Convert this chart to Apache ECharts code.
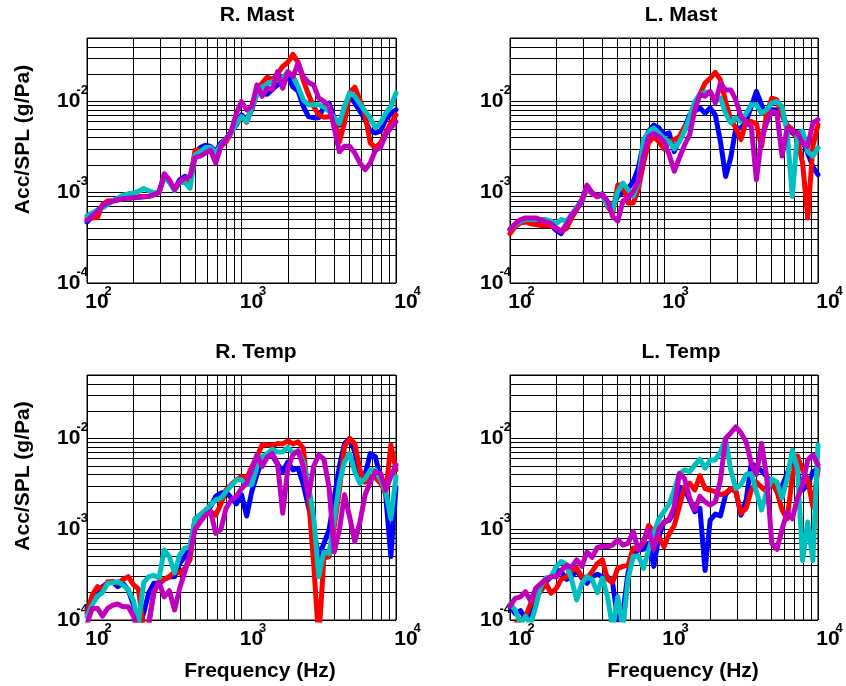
<!DOCTYPE html>
<html><head><meta charset="utf-8">
<script src="https://cdn.jsdelivr.net/npm/echarts@6/dist/echarts.min.js"></script>
<style>html,body{margin:0;padding:0;background:#fff}#c{width:846px;height:686px}</style>
</head><body><div id="c"></div>
<script>
// ---------- data ----------
const freq = [100,108,117,126,136,147,158,171,185,200,215,233,251,271,293,316,341,369,398,430,464,501,541,584,631,681,736,794,858,926,1000,1080,1166,1259,1359,1468,1585,1711,1848,1995,2154,2326,2512,2712,2929,3162,3415,3687,3981,4299,4642,5012,5412,5843,6310,6813,7356,7943,8577,9261,10000];

const rMastBlue = [0.00047,0.00054,0.00062,0.0007,0.00075,0.0008,0.00082,0.00084,0.00086,0.00087,
0.00088,0.00089,0.0009,0.00094,0.001,0.0015,0.0013,0.00108,0.00137,0.0015,
0.00137,0.0027,0.0031,0.0033,0.0032,0.0028,0.0035,0.0039,0.0047,0.0055,
0.0071,0.0063,0.0081,0.0124,0.0122,0.012,0.0136,0.0152,0.0159,0.0191,
0.0144,0.013,0.0088,0.0068,0.0066,0.0066,0.0088,0.0096,0.0066,0.0055,
0.0088,0.0114,0.0096,0.0078,0.0063,0.0047,0.0045,0.0047,0.0063,0.0074,
0.0081];
const rMastRed = [0.00052,0.00052,0.00053,0.00073,0.0008,0.00081,0.00083,0.00085,0.00086,0.00088,
0.00089,0.00089,0.0009,0.00094,0.001,0.00147,0.0013,0.00108,0.0013,0.00137,
0.0013,0.0029,0.0029,0.0029,0.003,0.0027,0.0032,0.0036,0.0045,0.0058,
0.0068,0.0059,0.0085,0.0134,0.0159,0.0185,0.0173,0.0201,0.0243,0.027,
0.033,0.027,0.017,0.012,0.0088,0.0071,0.0067,0.0068,0.0066,0.0036,
0.0058,0.0124,0.0144,0.0104,0.0071,0.0035,0.0031,0.0035,0.0045,0.0058,
0.0071];
const rMastCyan = [0.00055,0.00059,0.00064,0.00067,0.00073,0.0008,0.00086,0.00093,0.00096,0.00098,
0.00102,0.0011,0.00104,0.00098,0.00102,0.0015,0.0013,0.00104,0.0013,0.00128,
0.0011,0.0026,0.0028,0.0031,0.0031,0.0027,0.0033,0.0039,0.0045,0.0057,
0.0068,0.006,0.0085,0.012,0.0144,0.0156,0.0166,0.0173,0.0185,0.021,
0.019,0.0145,0.0104,0.0092,0.0092,0.0092,0.0087,0.0078,0.0066,0.0057,
0.0088,0.0124,0.0114,0.0094,0.0078,0.0066,0.0051,0.0058,0.0074,0.0088,
0.0124];
const rMastMagenta = [0.00049,0.00055,0.00062,0.00071,0.00076,0.0008,0.00083,0.00085,0.00086,0.00087,
0.00088,0.0009,0.0009,0.00094,0.001,0.0016,0.00137,0.00107,0.0013,0.00143,
0.0015,0.0024,0.0025,0.0027,0.0029,0.0021,0.0032,0.0038,0.0047,0.0074,
0.010,0.0081,0.0088,0.0152,0.0114,0.014,0.0136,0.0214,0.014,0.0214,
0.0188,0.0264,0.0188,0.0162,0.0152,0.0109,0.010,0.009,0.0051,0.0028,
0.0032,0.0032,0.0027,0.0021,0.00177,0.0021,0.0029,0.0031,0.0043,0.0051,
0.006];

const lMastBlue = [0.00039,0.00044,0.00048,0.00049,0.00049,0.00049,0.00046,0.00045,0.00043,0.00038,
0.00035,0.00045,0.00056,0.00067,0.00083,0.00114,0.00098,0.0009,0.00096,0.00075,
0.0007,0.0009,0.001,0.0011,0.00131,0.00184,0.0035,0.0047,0.0055,0.0051,
0.0043,0.0045,0.0028,0.0038,0.0051,0.0071,0.0078,0.0085,0.0074,0.0085,
0.0071,0.0036,0.00149,0.0024,0.0051,0.0051,0.006,0.0088,0.0129,0.0092,
0.0068,0.0081,0.0081,0.0071,0.0053,0.0045,0.0041,0.0036,0.0027,0.0019,
0.00156];
const lMastRed = [0.00035,0.00042,0.00046,0.00047,0.00045,0.00044,0.00043,0.00043,0.00043,0.0004,
0.00037,0.0004,0.00052,0.00064,0.0008,0.0011,0.00097,0.00089,0.00094,0.00069,
0.00059,0.0012,0.0012,0.00076,0.00076,0.00107,0.0021,0.0035,0.0041,0.0036,
0.003,0.0036,0.0038,0.0041,0.0053,0.0055,0.0085,0.012,0.0159,0.018,
0.0209,0.0173,0.010,0.0063,0.0051,0.0038,0.006,0.006,0.0057,0.0032,
0.0074,0.0109,0.0104,0.0071,0.0055,0.0049,0.0038,0.0021,0.00052,0.0032,
0.0055];
const lMastCyan = [0.00039,0.00044,0.00048,0.0005,0.0005,0.0005,0.0005,0.0005,0.00048,0.00045,
0.0005,0.00048,0.00057,0.00068,0.0008,0.00116,0.00098,0.0009,0.00094,0.0007,
0.00064,0.00102,0.00126,0.00107,0.0009,0.00126,0.0038,0.0046,0.0051,0.0045,
0.0039,0.0036,0.003,0.0036,0.0047,0.0068,0.010,0.012,0.0126,0.0126,
0.0104,0.0109,0.0074,0.0058,0.0066,0.006,0.0074,0.0092,0.0092,0.0074,
0.0081,0.0096,0.010,0.0088,0.0045,0.0009,0.0045,0.0047,0.0028,0.0025,
0.0031];
const lMastMagenta = [0.00039,0.00045,0.0005,0.00052,0.00052,0.00052,0.0005,0.00047,0.00045,0.0004,
0.00037,0.00044,0.00056,0.00065,0.0008,0.0012,0.00099,0.0009,0.00094,0.0008,
0.00054,0.00048,0.0008,0.00086,0.00102,0.00131,0.0025,0.0041,0.0044,0.0041,
0.0036,0.0026,0.0017,0.0024,0.0033,0.0043,0.0081,0.012,0.0114,0.0129,
0.0096,0.0159,0.0134,0.0134,0.0104,0.0068,0.0058,0.0053,0.00137,0.0039,
0.0058,0.0078,0.0074,0.0025,0.0051,0.0047,0.0045,0.0035,0.0032,0.0058,
0.0063];

const rTempBlue = [0.000134,0.000159,0.000184,0.000233,0.000254,0.000264,0.000233,0.000254,0.000214,0.000146,
0.00008,0.00012,0.0002,0.000254,0.000254,0.00028,0.0003,0.0003,0.00042,0.0005,
0.00062,0.0013,0.00143,0.00156,0.00177,0.0023,0.0025,0.0026,0.0022,0.0019,
0.0024,0.0014,0.0026,0.004,0.0058,0.0066,0.0064,0.0052,0.0043,0.0055,
0.0045,0.0047,0.0031,0.00177,0.00098,0.0005,0.0007,0.00098,0.0022,0.0049,
0.0088,0.010,0.0071,0.004,0.004,0.0068,0.0063,0.0036,0.0024,0.0005,
0.0029];
const rTempRed = [0.000118,0.000188,0.000233,0.000214,0.000264,0.000264,0.000254,0.00028,0.0003,0.000244,
0.00022,0.00008,0.00009,0.0002,0.000264,0.00028,0.0003,0.00034,0.00033,0.00037,
0.00046,0.00126,0.00143,0.0015,0.00156,0.00143,0.0019,0.0027,0.0031,0.0035,
0.0038,0.0036,0.0049,0.0063,0.0085,0.0085,0.0083,0.0088,0.0087,0.0094,
0.0087,0.0092,0.0078,0.0023,0.00042,0.00006,0.00048,0.0005,0.00107,0.0027,
0.0081,0.010,0.0088,0.0045,0.0033,0.0038,0.0037,0.0032,0.0025,0.0085,
0.0045];
const rTempCyan = [0.000109,0.000146,0.000184,0.0002,0.000254,0.000258,0.000264,0.000244,0.000214,0.000163,
0.00009,0.00026,0.0003,0.00031,0.00029,0.00059,0.0005,0.00033,0.00052,0.00062,
0.00064,0.0013,0.00143,0.00163,0.00184,0.0021,0.0022,0.0026,0.003,0.0035,
0.0035,0.0031,0.0031,0.0049,0.0063,0.0068,0.0076,0.0071,0.0071,0.008,
0.0069,0.0073,0.0055,0.0031,0.00137,0.0003,0.00056,0.00054,0.00126,0.0032,
0.0055,0.0068,0.0043,0.0032,0.0036,0.0045,0.0045,0.0035,0.0026,0.0013,
0.0038];
const rTempMagenta = [0.00009,0.000134,0.000134,0.00011,0.000134,0.000146,0.00015,0.00014,0.00014,0.00011,
0.00007,0.00007,0.00009,0.00021,0.00026,0.00018,0.00021,0.000129,0.000224,0.00034,
0.00054,0.001,0.0012,0.00143,0.00156,0.0009,0.001,0.0017,0.0021,0.0023,
0.0028,0.0032,0.0045,0.0066,0.0049,0.0062,0.0068,0.0053,0.0015,0.0047,
0.0066,0.0073,0.0049,0.0023,0.0049,0.0066,0.0059,0.0029,0.00056,0.00098,
0.0024,0.00137,0.00073,0.0012,0.0024,0.0033,0.0043,0.0041,0.0027,0.0038,
0.0051];

const lTempBlue = [0.000141,0.000118,0.000127,0.000104,0.000113,0.000173,0.000244,0.000264,0.0003,0.00036,
0.00034,0.00028,0.0003,0.00035,0.00029,0.000254,0.0003,0.00032,0.0003,0.0003,
0.000254,0.0001,0.00012,0.00033,0.00052,0.00059,0.0006,0.0007,0.00039,0.00083,
0.0012,0.00126,0.00156,0.0029,0.0028,0.0021,0.00156,0.0017,0.00035,0.00126,
0.00147,0.0014,0.0024,0.0028,0.0026,0.00143,0.0021,0.0053,0.0049,0.0044,
0.0038,0.0033,0.0026,0.003,0.0041,0.006,0.0043,0.0027,0.0031,0.0043,
0.0047];
const lTempRed = [0.00008,0.00009,0.0001,0.000109,0.00015,0.00021,0.000205,0.000254,0.000197,0.000224,
0.00028,0.0003,0.00035,0.00037,0.0003,0.00029,0.00034,0.00042,0.00046,0.00028,
0.00026,0.00037,0.00039,0.0004,0.00062,0.0006,0.0007,0.0011,0.00094,0.00083,
0.00064,0.00089,0.0011,0.00177,0.0029,0.0032,0.0027,0.0039,0.0028,0.0027,
0.0026,0.0024,0.0025,0.0028,0.0026,0.0015,0.0017,0.0027,0.0033,0.0029,
0.0026,0.0033,0.0026,0.00163,0.0013,0.0038,0.0064,0.0045,0.0035,0.00177,
0.0045];
const lTempCyan = [0.00015,0.000129,0.00009,0.00011,0.00009,0.000141,0.000233,0.00029,0.0003,0.00039,
0.00044,0.00041,0.00028,0.000166,0.000254,0.0003,0.00028,0.0002,0.00029,0.00018,
0.00008,0.00018,0.00008,0.00028,0.0005,0.00051,0.00037,0.00059,0.0009,0.0013,
0.00156,0.0019,0.0027,0.0041,0.0045,0.0043,0.0051,0.0059,0.0047,0.0058,
0.0058,0.0071,0.010,0.0045,0.0028,0.0031,0.004,0.0041,0.0026,0.00163,
0.0026,0.0036,0.0033,0.0022,0.0036,0.0074,0.0047,0.00045,0.0012,0.00045,
0.0085];
const lTempMagenta = [0.000141,0.000173,0.00018,0.000205,0.000163,0.000224,0.00025,0.00028,0.0003,0.0003,
0.00035,0.0004,0.00038,0.00046,0.00039,0.00056,0.00049,0.00063,0.00065,0.00064,
0.00067,0.00077,0.00067,0.0007,0.00094,0.00059,0.00075,0.001,0.0006,0.001,
0.0012,0.0013,0.00177,0.0041,0.0036,0.0022,0.00163,0.0023,0.002,0.00184,
0.002,0.0035,0.010,0.0115,0.0134,0.0115,0.0092,0.0053,0.004,0.0088,
0.0038,0.0007,0.0006,0.001,0.00156,0.0013,0.0022,0.0031,0.0058,0.0066,
0.0051];

const panelTitles = ['R. Mast', 'L. Mast', 'R. Temp', 'L. Temp'];
const yAxisTitle = 'Acc/SPL (g/Pa)';
const xAxisTitle = 'Frequency (Hz)';
const xRange = [100, 10000];
const yRange = [0.0001, 0.05];
const xMinorGrid = [200,300,400,500,600,700,800,900,2000,3000,4000,5000,6000,7000,8000,9000];
const yMinorGrid = [0.0002,0.0003,0.0004,0.0005,0.0006,0.0007,0.0008,0.0009,
                    0.002,0.003,0.004,0.005,0.006,0.007,0.008,0.009,0.02,0.03,0.04];

// ---------- layout / style ----------
const seriesColors = ['#0000FF', '#FF0000', '#00BFBF', '#BF00BF'];
const panelSeries = [
  [rMastBlue, rMastRed, rMastCyan, rMastMagenta],
  [lMastBlue, lMastRed, lMastCyan, lMastMagenta],
  [rTempBlue, rTempRed, rTempCyan, rTempMagenta],
  [lTempBlue, lTempRed, lTempCyan, lTempMagenta]
];
const FONT = '"Liberation Sans", Arial, Helvetica, sans-serif';
const grids = [
  {left: 87, top: 38, width: 309, height: 245},
  {left: 510, top: 38, width: 308, height: 245},
  {left: 87, top: 375, width: 309, height: 245},
  {left: 510, top: 375, width: 308, height: 245}
];
const titlePos = [[257, 5], [681, 5], [256, 342], [681, 342]];

function expLabel(v) {
  const e = Math.log10(v);
  const r = Math.round(e);
  if (Math.abs(e - r) > 1e-6) return '';
  return '{b|10}{e|' + r + '}';
}
const baseRich = {fontFamily: FONT, fontWeight: 'bold', fontSize: 21, lineHeight: 21, color: '#000'};
const expRich = {fontFamily: FONT, fontWeight: 'bold', fontSize: 13, lineHeight: 13, color: '#000', padding: [0, 0, 22, -4]};

const chart = echarts.init(document.getElementById('c'), null, {renderer: 'canvas'});
const option = {
  animation: false,
  backgroundColor: '#fff',
  title: panelTitles.map((t, i) => ({
    text: t, left: titlePos[i][0], top: titlePos[i][1], textAlign: 'center', padding: 0,
    textStyle: {fontFamily: FONT, fontWeight: 'bold', fontSize: 21, color: '#000'}
  })),
  grid: grids.map(g => Object.assign({show: true, borderColor: '#000', borderWidth: 1, backgroundColor: 'transparent'}, g)),
  xAxis: grids.map((g, i) => ({
    type: 'log', logBase: 10, gridIndex: i, min: xRange[0], max: xRange[1],
    axisLine: {show: false}, axisTick: {show: false},
    splitLine: {show: true, lineStyle: {color: '#000', width: 1}},
    axisLabel: {margin: 9, formatter: expLabel,
      rich: {b: Object.assign({}, baseRich, {padding: [0, 0, 0, 23]}), e: expRich}}
  })),
  yAxis: grids.map((g, i) => ({
    type: 'log', logBase: 10, gridIndex: i, min: yRange[0], max: yRange[1],
    axisLine: {show: false}, axisTick: {show: false},
    splitLine: {show: true, lineStyle: {color: '#000', width: 1}},
    axisLabel: {margin: -1, formatter: expLabel,
      rich: {b: baseRich, e: expRich}}
  })),
  graphic: [
    {type: 'text', x: 23, y: 139.5, rotation: Math.PI / 2,
     style: {text: yAxisTitle, font: 'bold 21px ' + FONT, fill: '#000', align: 'center', verticalAlign: 'middle'}},
    {type: 'text', x: 23, y: 476, rotation: Math.PI / 2,
     style: {text: yAxisTitle, font: 'bold 21px ' + FONT, fill: '#000', align: 'center', verticalAlign: 'middle'}},
    {type: 'text', x: 260, y: 671,
     style: {text: xAxisTitle, font: 'bold 21px ' + FONT, fill: '#000', align: 'center', verticalAlign: 'middle'}},
    {type: 'text', x: 683, y: 671,
     style: {text: xAxisTitle, font: 'bold 21px ' + FONT, fill: '#000', align: 'center', verticalAlign: 'middle'}}
  ],
  series: []
};

panelSeries.forEach((arrs, p) => {
  arrs.forEach((arr, s) => {
    const ser = {
      type: 'line', xAxisIndex: p, yAxisIndex: p,
      data: freq.map((f, i) => [f, arr[i]]),
      showSymbol: false, symbol: 'none', silent: true, clip: true, z: 2,
      lineStyle: {color: seriesColors[s], width: 5, join: 'round', cap: 'round'},
      itemStyle: {color: seriesColors[s]}
    };
    if (s === 0) {
      ser.markLine = {
        silent: true, z: 1, symbol: ['none', 'none'], animation: false, precision: 8,
        label: {show: false}, emphasis: {disabled: true},
        lineStyle: {color: '#000', width: 1, type: 'solid'},
        data: xMinorGrid.map(v => ({xAxis: v})).concat(yMinorGrid.map(v => ({yAxis: v})))
      };
    }
    option.series.push(ser);
  });
});

chart.setOption(option);
</script>
</body></html>
